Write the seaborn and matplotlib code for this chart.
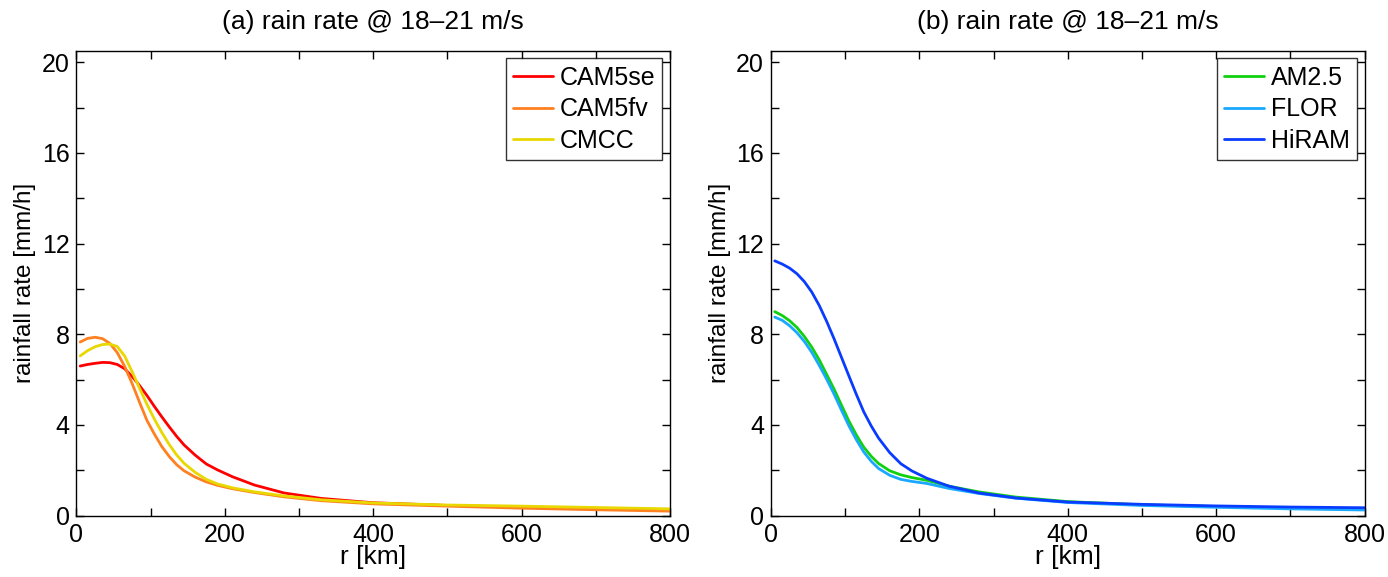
import numpy as np
import pandas as pd
import matplotlib
matplotlib.use("Agg")
import matplotlib.pyplot as plt
import seaborn as sns
from matplotlib.ticker import MultipleLocator

r_km = [5, 15, 25, 35, 45, 55, 65, 75, 85, 95, 105, 115, 125, 135, 145,
        160, 175, 190, 210, 240, 280, 330, 400, 500, 600, 700, 800]

cam5se = [6.60, 6.67, 6.72, 6.76, 6.75, 6.67, 6.48, 6.14, 5.74, 5.30, 4.82, 4.36, 3.92, 3.50, 3.12,
          2.67, 2.28, 2.02, 1.72, 1.35, 1.00, 0.76, 0.57, 0.45, 0.37, 0.30, 0.25]
cam5fv = [7.66, 7.82, 7.87, 7.81, 7.60, 7.19, 6.58, 5.83, 5.00, 4.20, 3.60, 3.05, 2.61, 2.25, 1.98,
          1.70, 1.49, 1.34, 1.19, 1.02, 0.83, 0.66, 0.52, 0.42, 0.33, 0.26, 0.20]
cmcc = [7.05, 7.28, 7.45, 7.55, 7.57, 7.46, 7.04, 6.35, 5.62, 4.91, 4.26, 3.67, 3.14, 2.68, 2.31,
        1.91, 1.60, 1.40, 1.23, 1.05, 0.87, 0.70, 0.56, 0.47, 0.42, 0.36, 0.30]

am25 = [9.00, 8.83, 8.60, 8.30, 7.90, 7.43, 6.87, 6.23, 5.58, 4.87, 4.17, 3.56, 3.02, 2.62, 2.30,
        1.98, 1.80, 1.68, 1.56, 1.30, 1.05, 0.82, 0.62, 0.48, 0.40, 0.34, 0.30]
flor = [8.76, 8.62, 8.38, 8.07, 7.68, 7.20, 6.63, 6.02, 5.36, 4.65, 3.96, 3.35, 2.81, 2.40, 2.08,
        1.78, 1.60, 1.51, 1.42, 1.20, 0.98, 0.77, 0.58, 0.45, 0.37, 0.30, 0.25]
hiram = [11.24, 11.10, 10.92, 10.67, 10.32, 9.86, 9.27, 8.57, 7.80, 6.98, 6.16, 5.35, 4.58, 3.96, 3.42,
         2.78, 2.29, 1.97, 1.65, 1.30, 1.00, 0.78, 0.60, 0.50, 0.43, 0.38, 0.35]

left_names = ["CAM5se", "CAM5fv", "CMCC"]
right_names = ["AM2.5", "FLOR", "HiRAM"]
left_colors = ["#ff0000", "#ff8020", "#e8d800"]
right_colors = ["#10d010", "#1aa8ff", "#0a3cff"]
titles = ["(a) rain rate @ 18\u201321 m/s", "(b) rain rate @ 18\u201321 m/s"]


def long_df(names, series):
    rows = []
    for n, s in zip(names, series):
        for x, y in zip(r_km, s):
            rows.append({"r": x, "rate": y, "model": n})
    return pd.DataFrame(rows)


df_left = long_df(left_names, [cam5se, cam5fv, cmcc])
df_right = long_df(right_names, [am25, flor, hiram])

sns.set_theme(style="white")
plt.rcParams["font.family"] = ["Liberation Sans", "DejaVu Sans"]
plt.rcParams["text.color"] = "black"
plt.rcParams["axes.labelcolor"] = "black"
plt.rcParams["xtick.color"] = "black"
plt.rcParams["ytick.color"] = "black"

fig = plt.figure(figsize=(13.88, 5.77), dpi=100)
ax1 = fig.add_axes([0.0551, 0.1063, 0.4276, 0.8054])
ax2 = fig.add_axes([0.5555, 0.1063, 0.4276, 0.8054])

for ax, df, names, cols, title in [(ax1, df_left, left_names, left_colors, titles[0]),
                                   (ax2, df_right, right_names, right_colors, titles[1])]:
    sns.lineplot(data=df, x="r", y="rate", hue="model", hue_order=names,
                 palette=cols, linewidth=2.0, ax=ax)
    ax.set_xlim(0, 800)
    ax.set_ylim(0, 20.5)
    ax.xaxis.set_major_locator(MultipleLocator(200))
    ax.xaxis.set_minor_locator(MultipleLocator(100))
    ax.yaxis.set_major_locator(MultipleLocator(4))
    ax.yaxis.set_minor_locator(MultipleLocator(2))
    ax.tick_params(which="both", direction="in", top=True, right=True,
                   bottom=True, left=True, length=6, width=1.0, color="black",
                   labelsize=18, pad=5, labelcolor="black")
    for sp in ax.spines.values():
        sp.set_color("black")
        sp.set_linewidth(1.0)
    ax.set_xlabel("r [km]", fontsize=19, labelpad=-1, color="black")
    ax.set_ylabel("rainfall rate [mm/h]", fontsize=17.5, labelpad=4, color="black")
    ax.set_title(title, fontsize=19, pad=16, color="black")
    leg = ax.legend(loc="upper right", fontsize=18, frameon=True, fancybox=False,
                    edgecolor="black", handlelength=1.6, handletextpad=0.25,
                    borderpad=0.3, labelspacing=0.3, borderaxespad=0.3)
    leg.get_frame().set_linewidth(1.0)
    for t in leg.get_texts():
        t.set_color("black")

fig.savefig("out.png", dpi=100, facecolor="white")
